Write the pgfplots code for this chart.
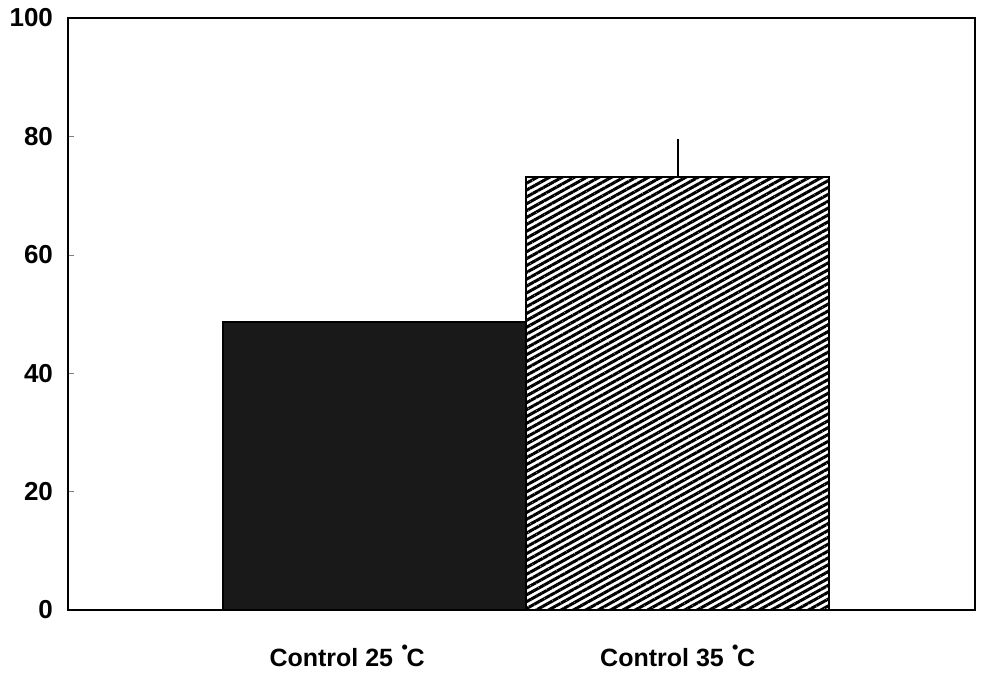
\documentclass[border=0pt]{standalone}
\usepackage{fontspec}
\setmainfont{Liberation Sans}
\usepackage{pgfplots}
\pgfplotsset{compat=1.18}
\usetikzlibrary{patterns.meta}
\newcommand{\dg}{\,\,\raisebox{0.95ex}{\fontsize{9}{9}\selectfont\textbullet}\kern-0.05em}
\begin{document}
\begin{tikzpicture}
\begin{axis}[
  at={(0,0)}, anchor=south west,
  scale only axis,
  width=453.5pt, height=296pt,
  xmin=-1.01, xmax=1.98,
  ymin=0, ymax=100,
  ytick={0,20,40,60,80,100},
  xtick={-0.09,1.0},
  xticklabels={Control 25\dg C, Control 35\dg C},
  x tick label style={font=\bfseries\fontsize{12.5}{14}\selectfont, yshift=-11pt},
  y tick label style={font=\bfseries\fontsize{13}{14}\selectfont, xshift=-4pt},
  /pgf/number format/assume math mode=true,
  major x tick style={draw=none},
  major tick length=3pt,
  tick align=inside,
  ytick pos=left,
  axis line style={line width=1pt},
  ybar, bar width=1, bar shift=0pt,
]
\addplot[draw=black, line width=1pt, fill=black!90] coordinates {(0,48.7)};
\addplot[draw=black, line width=1pt, pattern={Lines[angle=29,distance=3pt,line width=1.5pt]},
  error bars/.cd, y dir=plus, y explicit, error bar style={line width=1pt}, error mark=none]
  coordinates {(1,73.1) +- (0,6.4)};
\end{axis}
\path[use as bounding box] (-34pt,-32pt) rectangle (457.5pt,305pt);
\end{tikzpicture}
\end{document}
